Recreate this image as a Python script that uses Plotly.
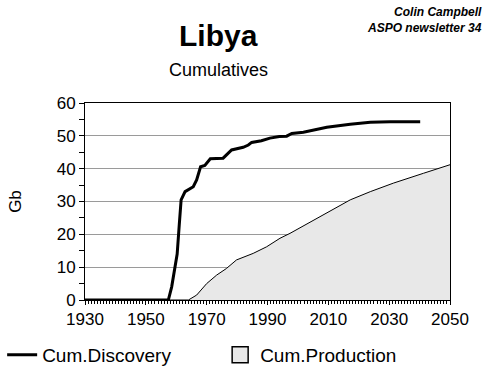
import plotly.graph_objects as go

# Cumulative discovery (Gb)
disc_years = [1930, 1957.4, 1958.5, 1959.6, 1960.3, 1961.0, 1961.6, 1962.9, 1965.6, 1966.7,
              1968.0, 1969.4, 1970.4, 1971.2, 1975.4, 1976.5, 1978.2, 1982.0, 1983.7, 1984.8,
              1988.0, 1990.8, 1993.9, 1996.3, 1998.0, 2001.8, 2009.5, 2017.2, 2023.8, 2030.3, 2040.2]
disc_values = [0, 0, 4, 11, 14, 23, 30.5, 33, 34.5, 36.6,
               40.6, 41, 42, 43, 43.2, 44.2, 45.7, 46.5, 47.2, 48,
               48.5, 49.3, 49.8, 49.9, 50.7, 51.1, 52.6, 53.5, 54.1, 54.3, 54.3]

# Cumulative production (Gb)
prod_years = [1930, 1964.0, 1966.7, 1970.0, 1973.3, 1976.5, 1979.8, 1985.3, 1989.7, 1994.1,
              1997.4, 2006.2, 2017.2, 2023.8, 2031.4, 2041.3, 2050]
prod_values = [0, 0, 1.5, 5, 7.6, 9.6, 12.2, 14.2, 16.2, 18.8,
               20.3, 24.9, 30.5, 33, 35.6, 38.6, 41.2]

x_ticks = [1930, 1950, 1970, 1990, 2010, 2030, 2050]
y_ticks = [0, 10, 20, 30, 40, 50, 60]

FONT = "Liberation Sans, Arial, sans-serif"
FILL = "#e8e8e8"

fig = go.Figure()
fig.add_trace(go.Scatter(
    x=prod_years, y=prod_values, name="Cum.Production", mode="lines",
    line=dict(color="black", width=1), fill="tozeroy", fillcolor=FILL,
    showlegend=False,
))
fig.add_trace(go.Scatter(
    x=disc_years, y=disc_values, name="Cum.Discovery", mode="lines",
    line=dict(color="black", width=3), legendrank=1,
))
# legend entry for the production area (box symbol)
fig.add_trace(go.Scatter(
    x=[None], y=[None], name="Cum.Production", mode="markers",
    marker=dict(symbol="square", size=24, color=FILL, line=dict(color="black", width=1.5)),
    legendrank=2,
))

fig.update_layout(
    width=494, height=379,
    margin=dict(l=85, r=44, t=103, b=79, autoexpand=False),
    paper_bgcolor="white", plot_bgcolor="white",
    font=dict(family=FONT, size=17, color="black"),
    showlegend=True,
    legend=dict(
        orientation="h", xref="paper", yref="paper",
        x=-0.227, y=-0.279, xanchor="left", yanchor="middle",
        font=dict(size=19),
        entrywidth=173, itemwidth=30,
        bgcolor="rgba(0,0,0,0)",
    ),
    xaxis=dict(
        range=[1930, 2050], tickvals=x_ticks, ticktext=[str(v) for v in x_ticks],
        showgrid=False, zeroline=False,
        showline=True, linecolor="black", linewidth=1, mirror=True,
        ticks="outside", ticklen=4, tickcolor="black",
        minor=dict(dtick=1, ticks="outside", ticklen=3, tickcolor="black", showgrid=False),
        tickfont=dict(size=17),
    ),
    yaxis=dict(
        range=[0, 60], tickvals=y_ticks,
        showgrid=True, gridcolor="#9a9a9a", gridwidth=1, zeroline=False,
        showline=True, linecolor="black", linewidth=1, mirror=True,
        ticks="outside", ticklen=5, tickcolor="black",
        minor=dict(dtick=5, ticks="outside", ticklen=5, tickcolor="black", showgrid=False),
        tickfont=dict(size=17),
        title=dict(text="Gb", font=dict(size=17), standoff=30),
    ),
    annotations=[
        dict(text="<b>Libya</b>", xref="paper", yref="paper", x=0.366, y=1.0,
             xanchor="center", yanchor="middle", yshift=68, showarrow=False,
             font=dict(size=30)),
        dict(text="Cumulatives", xref="paper", yref="paper", x=0.366, y=1.0,
             xanchor="center", yanchor="middle", yshift=33, showarrow=False,
             font=dict(size=18)),
        dict(text="<b><i>Colin Campbell<br>ASPO newsletter 34</i></b>", xref="paper", yref="paper",
             x=1.0, y=1.0, xanchor="right", yanchor="middle", xshift=34, yshift=83,
             align="right", showarrow=False, font=dict(size=12)),
    ],
)

fig.write_html("out.html", config={"displayModeBar": False},
               post_script="document.body.style.margin='0';")
